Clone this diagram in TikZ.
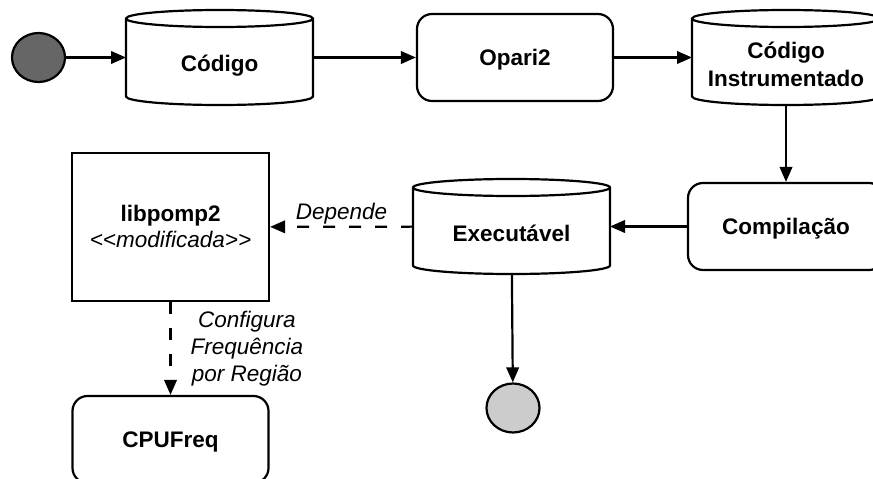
\documentclass[tikz,border=0pt]{standalone}
\usepackage{fontspec}
\setmainfont{Liberation Sans}
\usetikzlibrary{arrows.meta,calc,shapes.geometric}

\tikzset{
  ln/.style={line width=2.2pt},
  flow/.style={ln,-{Triangle[length=15pt,width=12.5pt]}},
  depflow/.style={flow,dash pattern=on 12pt off 14pt},
  txt/.style={font=\fontsize{22.5}{27.5}\selectfont,text height=16pt,text depth=0pt,
              inner sep=0pt,align=center},
  % several lines, placed by the baseline of the last line
  mtxt/.style={inner sep=0pt,align=center},
  proc/.style={draw,ln,rounded corners=15pt,minimum width=196pt,minimum height=87pt,
               txt,font=\fontsize{22.5}{27.5}\selectfont\bfseries},
  store/.style={minimum width=#1,minimum height=95pt,inner sep=0pt,outer sep=0pt},
  storelbl/.style={txt,font=\fontsize{22.5}{28.5}\selectfont\bfseries},
  libbox/.style={draw,ln,minimum width=197pt,minimum height=148pt},
  edgelbl/.style={txt,font=\fontsize{22.5}{27.5}\selectfont\itshape},
  dot/.style={draw,ln,ellipse,minimum width=53pt,minimum height=49pt,inner sep=0pt},
}

% data store drawn as a cylinder over the extent of a named node
\newcommand\cylbody[1]{%
  \draw[ln,fill=white] let \p1=(#1.north west), \p2=(#1.south east),
      \n1={(\x2-\x1)/2} in
    (\x1,\y1-8.5pt) -- (\x1,\y2+8.5pt)
      arc[start angle=180,end angle=360,x radius=\n1,y radius=8.5pt]
      -- (\x2,\y1-8.5pt)
      arc[start angle=0,end angle=180,x radius=\n1,y radius=8.5pt] -- cycle
    (\x1,\y1-8.5pt)
      arc[start angle=180,end angle=360,x radius=\n1,y radius=8.5pt];
}

\begin{document}
\begin{tikzpicture}[x=1pt,y=-1pt]
\useasboundingbox (0,0) rectangle (873,479);
\clip (0,0) rectangle (873,479);

% top row
\node[dot,fill=black!60] (ini) at (38.5,57.5) {};
\node[store=187pt] (cod) at (219.5,57.5) {};
\cylbody{cod}
\node[storelbl] (codT) at ([yshift=-6pt]cod.center) {Código};
\node[proc] (opari) at (515,57.5) {Opari2};
\node[store=188pt] (cins) at (786,57.5) {};
\cylbody{cins}
\node[mtxt,anchor=base,font=\fontsize{22.5}{28.5}\selectfont\bfseries] (cinsT)
  at ([yshift=-29pt]cins.center) {Código\\Instrumentado};

% middle row
\node[proc] (comp) at (786,226.5) {Compilação};
\node[store=197pt] (exe) at (511.5,226.5) {};
\cylbody{exe}
\node[storelbl] (exeT) at ([yshift=-6.5pt]exe.center) {Executável};
\node[libbox] (lib) at (170.5,227) {};
\node[mtxt,anchor=base,font=\fontsize{22.5}{26}\selectfont] (libT)
  at ([yshift=-20pt]lib.center) {\textbf{libpomp2}\\\textit{<\kern0pt<modificada>\kern0pt>}};

% bottom row
\node[proc] (cpu) at (170.5,439.5) {CPUFreq};
\node[dot,fill=black!20] (fim) at (513,408) {};

% connectors
\draw[flow] (ini) -- (cod);
\draw[flow] (cod) -- (opari);
\draw[flow] (opari) -- (cins);
\draw[flow] (cins) -- (comp);
\draw[flow] (comp) -- (exe);
\draw[flow] (exe) -- (fim);
\draw[depflow] (exe) -- node[edgelbl,anchor=base,yshift=7pt] {Depende} (lib);
\draw[depflow] (lib) -- node[mtxt,font=\fontsize{22.5}{27}\selectfont\itshape,
    anchor=base west,xshift=19pt,yshift=-33pt] {Configura\\Frequência\\por Região} (cpu);
\end{tikzpicture}
\end{document}
